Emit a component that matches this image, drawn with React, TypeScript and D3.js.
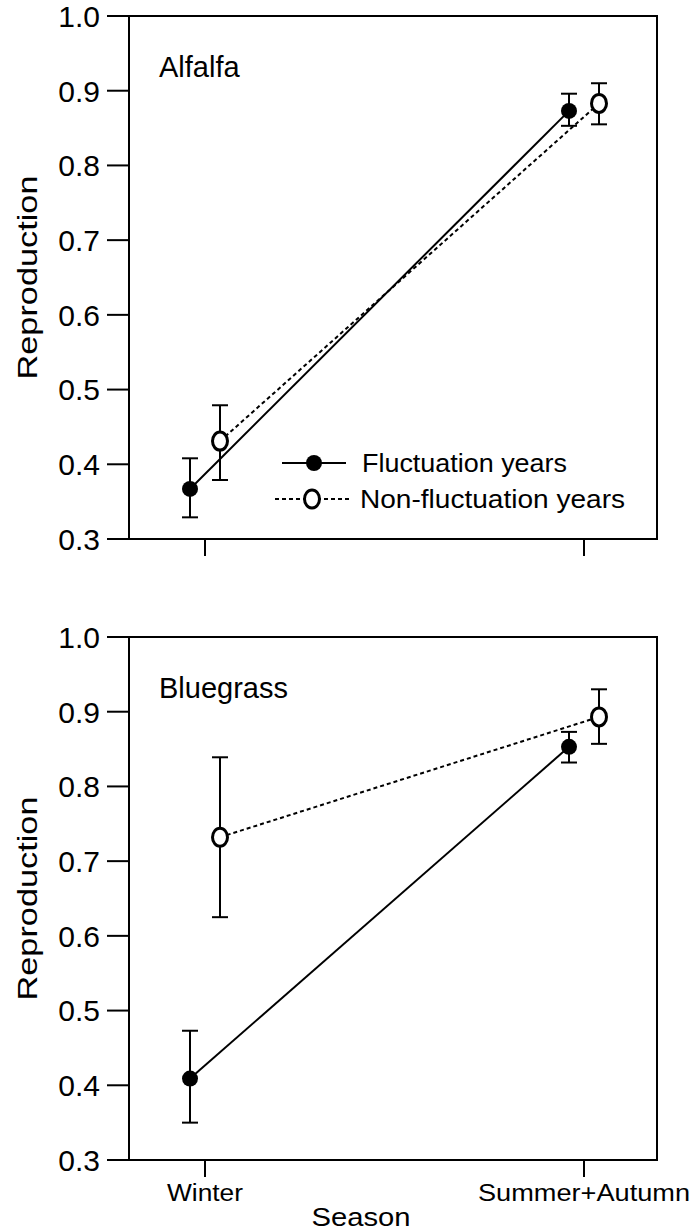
import React from "react";
import * as d3 from "d3";

const seasons = ["Winter", "Summer+Autumn"];
const yTicks = [0.3, 0.4, 0.5, 0.6, 0.7, 0.8, 0.9, 1.0];
const panelNames = ["Alfalfa", "Bluegrass"];
const seriesNames = ["Fluctuation years", "Non-fluctuation years"];

// Alfalfa
const alfFluct = [0.367, 0.873];
const alfFluctLo = [0.329, 0.853];
const alfFluctHi = [0.408, 0.896];
const alfNon = [0.431, 0.883];
const alfNonLo = [0.379, 0.855];
const alfNonHi = [0.479, 0.91];

// Bluegrass
const bgFluct = [0.409, 0.853];
const bgFluctLo = [0.35, 0.832];
const bgFluctHi = [0.473, 0.873];
const bgNon = [0.732, 0.893];
const bgNonLo = [0.625, 0.857];
const bgNonHi = [0.839, 0.93];

const FONT = "'Liberation Sans', Arial, Helvetica, sans-serif";

type Series = { v: number[]; lo: number[]; hi: number[] };

function Panel({ top, name, fl, nf, showLegend, showXLabels }: { top: number; name: string; fl: Series; nf: Series; showLegend: boolean; showXLabels: boolean }) {
  const left = 129, right = 657;
  const bottom = top + 523;
  const y = d3.scaleLinear().domain([0.3, 1.0]).range([bottom, top]);
  const x = d3.scalePoint<string>().domain(seasons).range([205, 584]);
  const off = 15;
  const line = d3.line<[number, number]>().x(d => d[0]).y(d => d[1]);
  const flPts: [number, number][] = seasons.map((s, i) => [x(s)! - off, y(fl.v[i])]);
  const nfPts: [number, number][] = seasons.map((s, i) => [x(s)! + off, y(nf.v[i])]);
  const cap = 8;
  const errBars = (s: Series, dx: number) => seasons.map((sn, i) => {
    const cx = x(sn)! + dx;
    return (
      <g key={sn} stroke="#000" strokeWidth={2}>
        <line x1={cx} x2={cx} y1={y(s.lo[i])} y2={y(s.hi[i])} />
        <line x1={cx - cap} x2={cx + cap} y1={y(s.lo[i])} y2={y(s.lo[i])} />
        <line x1={cx - cap} x2={cx + cap} y1={y(s.hi[i])} y2={y(s.hi[i])} />
      </g>
    );
  });
  return (
    <g>
      <rect x={left} y={top} width={right - left} height={bottom - top} fill="none" stroke="#000" strokeWidth={2} />
      {yTicks.map(t => (
        <g key={t}>
          <line x1={107} x2={left} y1={y(t)} y2={y(t)} stroke="#000" strokeWidth={2} />
          <text x={100} y={y(t)} dy="0.36em" textAnchor="end" fontFamily={FONT} fontSize={30}>{t.toFixed(1)}</text>
        </g>
      ))}
      {seasons.map(s => (
        <g key={s}>
          <line x1={x(s)} x2={x(s)} y1={bottom} y2={bottom + 17} stroke="#000" strokeWidth={2} />
          {showXLabels && (
            <text x={x(s)} y={bottom + 41} textAnchor="middle" fontFamily={FONT} fontSize={23} textLength={s === "Winter" ? 76 : 212} lengthAdjust="spacingAndGlyphs">{s}</text>
          )}
        </g>
      ))}
      <text transform={`translate(37,${(top + bottom) / 2}) rotate(-90)`} textAnchor="middle" fontFamily={FONT} fontSize={28} textLength={204} lengthAdjust="spacingAndGlyphs">Reproduction</text>
      <text x={159} y={top + 61} fontFamily={FONT} fontSize={29}>{name}</text>
      <path d={line(flPts)!} fill="none" stroke="#000" strokeWidth={2} />
      <path d={line(nfPts)!} fill="none" stroke="#000" strokeWidth={2} strokeDasharray="4,3" />
      {errBars(fl, -off)}
      {errBars(nf, off)}
      {flPts.map((p, i) => <circle key={i} cx={p[0]} cy={p[1]} r={8} fill="#000" />)}
      {nfPts.map((p, i) => <ellipse key={i} cx={p[0]} cy={p[1]} rx={7.5} ry={9} fill="#fff" stroke="#000" strokeWidth={3} />)}
      {showLegend && (
        <g fontFamily={FONT} fontSize={25}>
          <line x1={282} x2={346} y1={top + 447} y2={top + 447} stroke="#000" strokeWidth={2} />
          <circle cx={314} cy={top + 447} r={8} fill="#000" />
          <text x={362} y={top + 456} textLength={205} lengthAdjust="spacingAndGlyphs">{seriesNames[0]}</text>
          <line x1={275} x2={351} y1={top + 483} y2={top + 483} stroke="#000" strokeWidth={2} strokeDasharray="4,3" />
          <ellipse cx={312} cy={top + 483} rx={7.5} ry={9} fill="#fff" stroke="#000" strokeWidth={3} />
          <text x={360} y={top + 492} textLength={265} lengthAdjust="spacingAndGlyphs">{seriesNames[1]}</text>
        </g>
      )}
    </g>
  );
}

export default function App() {
  return (
    <svg width={699} height={1232} style={{ position: "absolute", left: 0, top: 0, background: "#fff" }}>
      <rect width={699} height={1232} fill="#fff" />
      <Panel top={16} name={panelNames[0]} fl={{ v: alfFluct, lo: alfFluctLo, hi: alfFluctHi }} nf={{ v: alfNon, lo: alfNonLo, hi: alfNonHi }} showLegend={true} showXLabels={false} />
      <Panel top={637} name={panelNames[1]} fl={{ v: bgFluct, lo: bgFluctLo, hi: bgFluctHi }} nf={{ v: bgNon, lo: bgNonLo, hi: bgNonHi }} showLegend={false} showXLabels={true} />
      <text x={361} y={1226} textAnchor="middle" fontFamily={FONT} fontSize={26} textLength={99} lengthAdjust="spacingAndGlyphs">Season</text>
    </svg>
  );
}
